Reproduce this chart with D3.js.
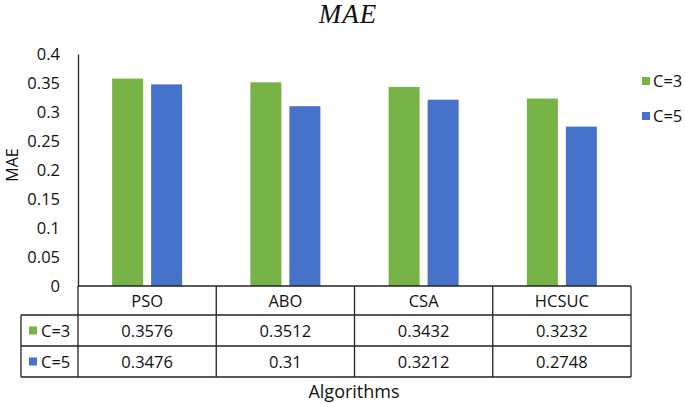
<!DOCTYPE html>
<html><head><meta charset="utf-8">
<script src="https://cdn.jsdelivr.net/npm/d3@7"></script>
<style>body{margin:0;background:#fff}svg{display:block}</style>
</head><body>
<svg id="c" width="685" height="404"></svg>
<script>
const categories = ["PSO", "ABO", "CSA", "HCSUC"];
const seriesNames = ["C=3", "C=5"];
const c3Values = [0.3576, 0.3512, 0.3432, 0.3232];
const c5Values = [0.3476, 0.31, 0.3212, 0.2748];
const c3Labels = ["0.3576", "0.3512", "0.3432", "0.3232"];
const c5Labels = ["0.3476", "0.31", "0.3212", "0.2748"];
const yTicks = [0, 0.05, 0.1, 0.15, 0.2, 0.25, 0.3, 0.35, 0.4];
const colors = ["#77b347", "#4673c9"];

(function () {
const series = [c3Values, c5Values];
const labels = [c3Labels, c5Labels];
const svg = d3.select("#c");
const font = "'Open Sans', sans-serif";
const fs = 16.5;
const pLeft = 78, pRight = 631, pTop = 54, pBottom = 286;

const x = d3.scaleBand().domain(categories).range([pLeft, pRight]);
const xs = d3.scaleBand().domain(seriesNames).range([0, x.bandwidth()]).paddingInner(0.205).paddingOuter(0.875);
const y = d3.scaleLinear().domain([0, 0.4]).range([pBottom, pTop]);

// y axis
const ya = svg.append("g").attr("transform", `translate(${pLeft},0)`)
  .call(d3.axisLeft(y).tickValues(yTicks).tickSize(0).tickPadding(18).tickFormat(d => d3.format("")(d)));
ya.select(".domain").attr("stroke", "#222").attr("stroke-width", 1.3);
ya.selectAll("text").attr("font-family", font).attr("font-size", fs).attr("fill", "#111");

// bars
seriesNames.forEach((s, si) => {
  svg.append("g").selectAll("rect").data(categories).join("rect")
    .attr("x", d => x(d) + xs(s))
    .attr("width", xs.bandwidth())
    .attr("y", (d, i) => y(series[si][i]))
    .attr("height", (d, i) => y(0) - y(series[si][i]))
    .attr("fill", colors[si]);
});

// table
const rowY = [286, 315, 346, 377];
const tableLeft = 21;
const g = svg.append("g").attr("stroke", "#222").attr("stroke-width", 1.3).attr("fill", "none");
g.append("line").attr("x1", pLeft).attr("x2", pRight).attr("y1", rowY[0]).attr("y2", rowY[0]);
g.append("line").attr("x1", tableLeft).attr("x2", pRight).attr("y1", rowY[1]).attr("y2", rowY[1]);
g.append("line").attr("x1", tableLeft).attr("x2", pRight).attr("y1", rowY[2]).attr("y2", rowY[2]);
g.append("line").attr("x1", tableLeft).attr("x2", pRight).attr("y1", rowY[3]).attr("y2", rowY[3]);
g.append("line").attr("x1", tableLeft).attr("x2", tableLeft).attr("y1", rowY[1]).attr("y2", rowY[3]);
g.append("line").attr("x1", pLeft).attr("x2", pLeft).attr("y1", rowY[0]).attr("y2", rowY[3]);
categories.forEach(c => {
  g.append("line").attr("x1", x(c) + x.bandwidth()).attr("x2", x(c) + x.bandwidth()).attr("y1", rowY[0]).attr("y2", rowY[3]);
});

const t = svg.append("g").attr("font-family", font).attr("font-size", fs).attr("fill", "#111").attr("text-anchor", "middle");
categories.forEach((c, i) => {
  t.append("text").attr("x", x(c) + x.bandwidth() / 2).attr("y", (rowY[0] + rowY[1]) / 2 + 6).text(c);
  labels.forEach((lab, si) => {
    t.append("text").attr("x", x(c) + x.bandwidth() / 2).attr("y", (rowY[si + 1] + rowY[si + 2]) / 2 + 6).text(lab[i]);
  });
});
seriesNames.forEach((s, si) => {
  const cy = (rowY[si + 1] + rowY[si + 2]) / 2;
  svg.append("rect").attr("x", 29).attr("y", cy - 4).attr("width", 8).attr("height", 8).attr("fill", colors[si]);
  svg.append("text").attr("x", 41).attr("y", cy + 6).attr("font-family", font).attr("font-size", fs).attr("fill", "#111").text(s);
});

// legend
seriesNames.forEach((s, si) => {
  const ly = 81 + si * 35;
  svg.append("rect").attr("x", 642).attr("y", ly - 4).attr("width", 8).attr("height", 8).attr("fill", colors[si]);
  svg.append("text").attr("x", 653).attr("y", ly + 6).attr("font-family", font).attr("font-size", fs).attr("fill", "#111").text(s);
});

// titles
svg.append("text").attr("x", 348).attr("y", 23).attr("text-anchor", "middle").attr("letter-spacing", 1)
  .attr("font-family", "'Liberation Serif', serif").attr("font-style", "italic").attr("font-size", 27).attr("fill", "#111").text("MAE");
svg.append("text").attr("x", 354).attr("y", 398).attr("text-anchor", "middle")
  .attr("font-family", font).attr("font-size", 18).attr("fill", "#111").text("Algorithms");
svg.append("text").attr("transform", "translate(18,165) rotate(-90)").attr("text-anchor", "middle")
  .attr("font-family", font).attr("font-size", 16).attr("fill", "#111").text("MAE");
})();
</script>
</body></html>
